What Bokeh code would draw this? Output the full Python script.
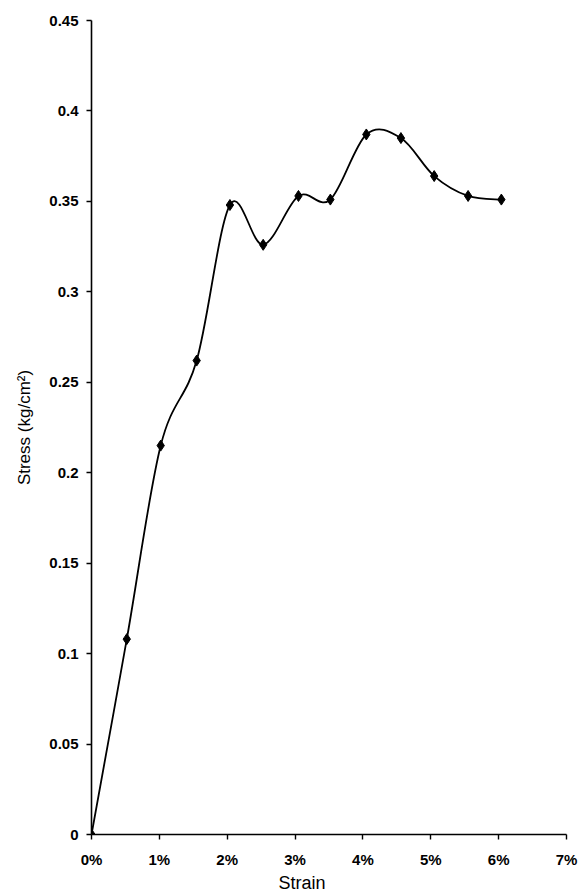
from bokeh.plotting import figure
from bokeh.models import Range1d, FixedTicker, Title
from bokeh.embed import file_html
from bokeh.resources import INLINE

# Data (strain in %, stress in kg/cm2)
strain_pct = [0.0, 0.52, 1.02, 1.55, 2.04, 2.53, 3.05, 3.52, 4.05, 4.56, 5.05, 5.55, 6.04]
stress = [0.0, 0.108, 0.215, 0.262, 0.348, 0.326, 0.353, 0.351, 0.387, 0.385, 0.364, 0.353, 0.351]

x_ticks = [0, 1, 2, 3, 4, 5, 6, 7]
x_tick_labels = ["0%", "1%", "2%", "3%", "4%", "5%", "6%", "7%"]
y_ticks = [0, 0.05, 0.1, 0.15, 0.2, 0.25, 0.3, 0.35, 0.4, 0.45]
y_tick_labels = ["0", "0.05", "0.1", "0.15", "0.2", "0.25", "0.3", "0.35", "0.4", "0.45"]

x_title = "Strain"
y_title = "Stress (kg/cm\u00b2)"

FONT = "Liberation Sans"

p = figure(width=578, height=892, output_backend="svg", toolbar_location=None,
           x_range=Range1d(0, 7), y_range=Range1d(0, 0.45),
           min_border_left=91, min_border_right=12, min_border_top=20, min_border_bottom=55)
p.outline_line_color = None
p.xgrid.visible = False
p.ygrid.visible = False
p.background_fill_color = "white"

# Smoothed line (Catmull-Rom style Bezier segments, as in a spreadsheet "smoothed line")
n = len(strain_pct)
x0, y0, x1, y1, cx0, cy0, cx1, cy1 = [], [], [], [], [], [], [], []
for i in range(n - 1):
    ip = i - 1 if i > 0 else i
    inn = i + 2 if i + 2 < n else i + 1
    x0.append(strain_pct[i]); y0.append(stress[i])
    x1.append(strain_pct[i + 1]); y1.append(stress[i + 1])
    cx0.append(strain_pct[i] + (strain_pct[i + 1] - strain_pct[ip]) / 6)
    cy0.append(stress[i] + (stress[i + 1] - stress[ip]) / 6)
    cx1.append(strain_pct[i + 1] - (strain_pct[inn] - strain_pct[i]) / 6)
    cy1.append(stress[i + 1] - (stress[inn] - stress[i]) / 6)
p.bezier(x0=x0, y0=y0, x1=x1, y1=y1, cx0=cx0, cy0=cy0, cx1=cx1, cy1=cy1,
         line_color="black", line_width=1.8)
p.scatter(strain_pct, stress, marker="diamond", size=11, color="black")

for ax in (p.xaxis[0], p.yaxis[0]):
    ax.axis_line_color = "black"
    ax.axis_line_width = 1.6
    ax.major_tick_line_color = "black"
    ax.major_tick_line_width = 1.4
    ax.major_tick_in = 0
    ax.major_tick_out = 5
    ax.minor_tick_line_color = None
    ax.major_label_text_font = FONT
    ax.major_label_text_font_size = "15px"
    ax.major_label_text_font_style = "bold"
    ax.major_label_text_color = "black"

p.xaxis.ticker = FixedTicker(ticks=x_ticks)
p.xaxis.major_label_overrides = {t: l for t, l in zip(x_ticks, x_tick_labels)}
p.xaxis.major_label_standoff = 11

p.yaxis.ticker = FixedTicker(ticks=y_ticks)
p.yaxis.major_label_overrides = {t: l for t, l in zip(y_ticks, y_tick_labels)}
p.yaxis.major_label_standoff = 8
p.yaxis.axis_label = y_title
p.yaxis.axis_label_text_font = FONT
p.yaxis.axis_label_text_font_size = "17px"
p.yaxis.axis_label_text_font_style = "normal"
p.yaxis.axis_label_text_color = "black"
p.yaxis.axis_label_standoff = 12

p.add_layout(Title(text=x_title, align="left", offset=187, standoff=0,
                   text_font=FONT, text_font_size="18px", text_font_style="normal",
                   text_color="black"), "below")

open("out.html", "w").write(file_html(p, INLINE))
